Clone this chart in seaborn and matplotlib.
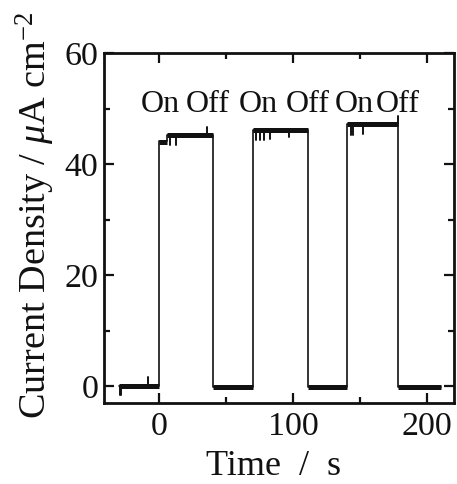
import matplotlib
matplotlib.use("Agg")
import matplotlib.pyplot as plt
import seaborn as sns
import pandas as pd
from matplotlib.ticker import MultipleLocator

# ---- data ----
# main trace breakpoints (time in s, current density in uA cm^-2)
trace_time = [-30, 0, 0, 6, 6, 40, 40, 70, 70, 111, 111, 140, 140, 178, 178, 210]
trace_current = [0.1, 0.1, 44.2, 44.2, 45.3, 45.3, -0.1, -0.1, 46.2, 46.2,
                 -0.1, -0.1, 47.3, 47.3, -0.1, -0.1]

# plateau bands (noisy, drawn thick)
plateau_start = [-30, 0, 6, 40, 70, 111, 140, 178]
plateau_end = [0, 6, 40, 70, 111, 140, 178, 210]
plateau_level = [0.1, 44.0, 45.3, -0.1, 46.2, -0.1, 47.3, -0.1]

# short glitches (spikes / drips)
glitch_time = [-29, -28, -8, 8, 13, 36, 72, 75, 78, 83, 97, 143, 145, 152, 178]
glitch_from = [0.1, 0.1, 0.1, 45.3, 45.3, 45.3, 46.2, 46.2, 46.2, 46.2, 46.2,
               47.3, 47.3, 47.3, 47.3]
glitch_to = [-1.5, -1.5, 1.6, 43.4, 43.4, 46.7, 44.4, 44.4, 44.4, 44.6, 44.8,
             45.3, 45.3, 45.5, 48.6]

# On/Off annotations
label_text = ["On", "Off", "On", "Off", "On", "Off"]
label_time = [1, 36, 74, 111, 146, 178]
label_y = 49.3

x_ticks = [0, 100, 200]
y_ticks = [0, 20, 40, 60]

# ---- styling ----
sns.set_theme(style="ticks")
plt.rcParams["font.family"] = ["Liberation Serif", "DejaVu Serif"]
plt.rcParams["mathtext.fontset"] = "custom"
plt.rcParams["mathtext.rm"] = "Liberation Serif"
plt.rcParams["mathtext.it"] = "Liberation Serif:italic"
plt.rcParams["mathtext.bf"] = "Liberation Serif:bold"

ink = "#111111"

fig = plt.figure(figsize=(4.57, 4.84), dpi=100)
ax = fig.add_axes([104 / 457, 1 - 403 / 484, 350 / 457, 350 / 484])

trace_df = pd.DataFrame({"t": trace_time, "j": trace_current})
sns.lineplot(data=trace_df, x="t", y="j", sort=False, estimator=None,
             color=ink, lw=1.2, ax=ax)

plat_rows = []
for i, (s, e, v) in enumerate(zip(plateau_start, plateau_end, plateau_level)):
    plat_rows.append({"seg": i, "t": s, "j": v})
    plat_rows.append({"seg": i, "t": e, "j": v})
plat_df = pd.DataFrame(plat_rows)
sns.lineplot(data=plat_df, x="t", y="j", units="seg", estimator=None, sort=False,
             color=ink, lw=3.6, solid_capstyle="butt", ax=ax)

gl_rows = []
for i, (t, a, b) in enumerate(zip(glitch_time, glitch_from, glitch_to)):
    gl_rows.append({"seg": i, "t": t, "j": a})
    gl_rows.append({"seg": i, "t": t, "j": b})
gl_df = pd.DataFrame(gl_rows)
sns.lineplot(data=gl_df, x="t", y="j", units="seg", estimator=None, sort=False,
             color=ink, lw=1.4, ax=ax)

for txt, t in zip(label_text, label_time):
    ax.text(t, label_y, txt, ha="center", va="baseline", fontsize=23, color=ink)

ax.set_xlim(-41, 220)
ax.set_ylim(-3, 60)
ax.set_xticks(x_ticks)
ax.set_yticks(y_ticks)
ax.xaxis.set_minor_locator(MultipleLocator(50))
ax.yaxis.set_minor_locator(MultipleLocator(10))
ax.tick_params(which="both", direction="in", top=True, right=True,
               width=1.6, colors=ink, labelcolor=ink)
ax.tick_params(which="major", length=7, labelsize=24.5)
ax.tick_params(axis="x", which="major", pad=6)
ax.tick_params(axis="y", which="major", pad=4)
ax.tick_params(which="minor", length=4.5)
for sp in ax.spines.values():
    sp.set_linewidth(2.0)
    sp.set_color(ink)

ax.set_xlabel("Time  /  s", fontsize=26, color=ink)
ax.set_ylabel(r"Current Density / $\mu$A cm$^{-2}$", fontsize=27.5, color=ink)
ax.xaxis.set_label_coords(0.483, -0.135)
ax.yaxis.set_label_coords(-0.133, 0.537)

fig.savefig("out.png", dpi=100)
